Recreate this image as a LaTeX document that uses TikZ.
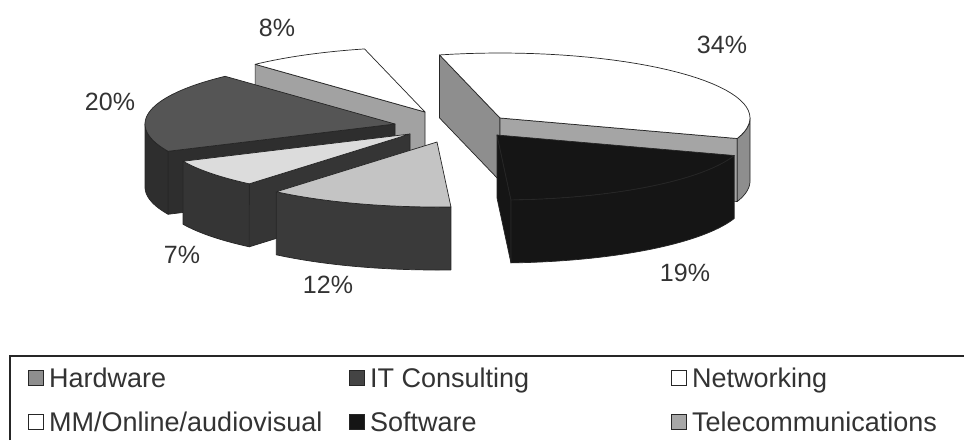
\documentclass[tikz,border=0pt]{standalone}
\usepackage{fontspec}
\setmainfont{Liberation Sans}
\usetikzlibrary{positioning}
\definecolor{rim}{HTML}{262626}
\definecolor{inkgray}{HTML}{333333}
\definecolor{netside}{HTML}{8E8E8E}
\definecolor{mmside}{HTML}{A2A2A2}
\definecolor{softblack}{HTML}{151515}
\definecolor{telecomtop}{HTML}{C4C4C4}
\definecolor{telecomside}{HTML}{3A3A3A}
\definecolor{hardtop}{HTML}{DCDCDC}
\definecolor{hardside}{HTML}{353535}
\definecolor{consulttop}{HTML}{555555}
\definecolor{consultside}{HTML}{2E2E2E}

\newcommand{\piex}{250}
\newcommand{\piey}{65}
\newcommand{\pieh}{63}
% top of a slice: vertex x, vertex y, from angle, to angle, style
\newcommand{\slicetop}[5]{%
  \filldraw[#5] (#1,#2) -- plot[domain=#3:#4, samples=40, variable=\t]
    ({#1+\piex*cos(\t)},{#2-\piey*sin(\t)}) -- cycle;}
% outer wall of a slice
\newcommand{\slicewall}[5]{%
  \filldraw[#5] plot[domain=#3:#4, samples=40, variable=\t]
    ({#1+\piex*cos(\t)},{#2-\piey*sin(\t)})
    -- plot[domain=#4:#3, samples=40, variable=\t]
    ({#1+\piex*cos(\t)},{#2-\piey*sin(\t)+\pieh}) -- cycle;}
% cut face of a slice at one angle
\newcommand{\slicecut}[4]{%
  \filldraw[#4] (#1,#2) -- ({#1+\piex*cos(#3)},{#2-\piey*sin(#3)})
    -- ++(0,\pieh) -- (#1,{#2+\pieh}) -- cycle;}

\begin{document}
\begin{tikzpicture}[
      x=1pt, y=-1pt,
      slab/.style={draw=rim, line width=0.7pt, line join=round},
      pct/.style={font=\fontsize{25}{30}\selectfont, text=inkgray, inner sep=0pt},
      legtext/.style={font=\fontsize{27}{32}\selectfont, text=inkgray, inner sep=0pt,
                      anchor=west, text height=19pt, text depth=0pt},
      legkey/.style={draw=rim, line width=1.2pt, minimum size=15pt, inner sep=0pt},
      frame/.style={draw=rim, line width=1.5pt}
    ]
      \useasboundingbox[fill=white] (0,0) rectangle (964,440);

      % 8%
      \slicecut{425}{112}{132.8}{slab, fill=mmside}
      \slicetop{425}{112}{104}{132.8}{slab, fill=white}
      % 34%
      \slicecut{500}{118}{104}{slab, fill=netside}
      \slicecut{500}{118}{-18.4}{slab, fill=netside!80!white}
      \slicewall{500}{118}{-18.4}{0}{slab, fill=netside}
      \slicetop{500}{118}{-18.4}{104}{slab, fill=white}
      % 20%
      \slicecut{395}{124}{204.8}{slab, fill=consultside}
      \slicewall{395}{124}{180}{204.8}{slab, fill=consultside}
      \slicetop{395}{124}{132.8}{204.8}{slab, fill=consulttop}
      % 7%
      \slicecut{410}{134}{230}{slab, fill=hardside}
      \slicewall{410}{134}{204.8}{230}{slab, fill=hardside}
      \slicetop{410}{134}{204.8}{230}{slab, fill=hardtop}
      % 12%
      \slicewall{437}{142}{230}{273.2}{slab, fill=telecomside}
      \slicetop{437}{142}{230}{273.2}{slab, fill=telecomtop}
      % 19%
      \slicecut{497}{135}{273.2}{slab, fill=softblack}
      \slicewall{497}{135}{273.2}{341.6}{slab, fill=softblack}
      \slicetop{497}{135}{273.2}{341.6}{slab, fill=softblack}

      \node[pct] (p34) at (722,45) {34\%};
      \node[pct] (p8) at (277,28) {8\%};
      \node[pct] (p20) at (110,102) {20\%};
      \node[pct] (p7) at (182,255) {7\%};
      \node[pct] (p12) at (328,285) {12\%};
      \node[pct] (p19) at (685,273) {19\%};

      % legend
      \draw[frame] (10,440) -- (10,356) -- (964,356);
      \node[legtext] (hard) at (49,378) {Hardware};
      \node[legtext] (consult) at (370,378) {IT Consulting};
      \node[legtext] (net) at (692,378) {Networking};
      \node[legtext] (mm) at (49,422) {MM/Online/audiovisual};
      \node[legtext] (soft) at (370,422) {Software};
      \node[legtext] (telecom) at (692,422) {Telecommunications};
      \node[legkey, fill=netside, left=5pt of hard] (khard) {};
      \node[legkey, fill=consulttop!80!black, left=5pt of consult] (kconsult) {};
      \node[legkey, fill=white, left=5pt of net] (knet) {};
      \node[legkey, fill=white, left=5pt of mm] (kmm) {};
      \node[legkey, fill=softblack, left=5pt of soft] (ksoft) {};
      \node[legkey, fill=telecomtop!85!black, left=5pt of telecom] (ktelecom) {};
    \end{tikzpicture}
\end{document}
